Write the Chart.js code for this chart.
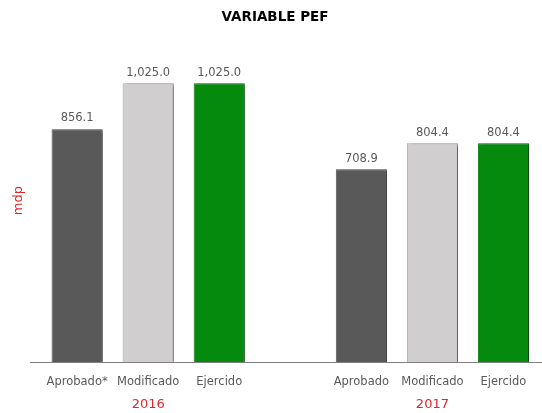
<!DOCTYPE html>
<html>
<head>
<meta charset="utf-8">
<script src="https://cdn.jsdelivr.net/npm/chart.js@4/dist/chart.umd.min.js"></script>
<style>
  html, body { margin: 0; padding: 0; background: #fff; }
  #wrap { width: 542px; height: 413px; }
</style>
</head>
<body>
<div id="wrap"><canvas id="pefChart"></canvas></div>
<script>
const categories = ['Aprobado*', 'Modificado', 'Ejercido', '', 'Aprobado', 'Modificado', 'Ejercido'];
const values = [856.1, 1025.0, 1025.0, null, 708.9, 804.4, 804.4];
const yearTicks = ['', '2016', '', '', '', '2017', ''];
const barColors = ['#595959', '#d0cece', '#058a0e', '#ffffff', '#595959', '#d0cece', '#058a0e'];
const borderColors = ['#505050', '#a6a6a6', '#047a0c', '#ffffff', '#505050', '#a6a6a6', '#047a0c'];

const fmt = v => v.toLocaleString('en-US', { minimumFractionDigits: 1, maximumFractionDigits: 1 });

// soft shadow behind the bars
const barShadow = {
    id: 'barShadow',
    beforeDatasetsDraw(chart) {
        const ctx = chart.ctx;
        ctx.save();
        ctx.shadowColor = 'rgba(0,0,0,0.45)';
        ctx.shadowOffsetX = 3;
        ctx.shadowOffsetY = 1;
        ctx.shadowBlur = 3;
    },
    afterDatasetsDraw(chart) {
        chart.ctx.restore();
    }
};

// value labels, baseline, year labels under the groups
const barLabels = {
    id: 'barLabels',
    afterDatasetsDraw(chart) {
        const ctx = chart.ctx;
        const meta = chart.getDatasetMeta(0);
        const xs = chart.scales.x;
        const y0 = chart.scales.y.getPixelForValue(0);
        ctx.save();
        ctx.strokeStyle = '#7f7f7f';
        ctx.lineWidth = 1;
        ctx.beginPath();
        ctx.moveTo(30, Math.round(y0) + 0.5);
        ctx.lineTo(chart.width, Math.round(y0) + 0.5);
        ctx.stroke();
        ctx.fillStyle = '#595959';
        ctx.font = '11.5px "DejaVu Sans"';
        ctx.textAlign = 'center';
        ctx.textBaseline = 'bottom';
        meta.data.forEach((bar, i) => {
            if (values[i] == null) return;
            ctx.fillText(fmt(values[i]), bar.x, bar.y - 5);
        });
        ctx.fillStyle = '#e0262b';
        ctx.font = '13px "DejaVu Sans"';
        ctx.textBaseline = 'middle';
        yearTicks.forEach((t, i) => {
            if (t) ctx.fillText(t, xs.getPixelForValue(i), y0 + 42);
        });
        ctx.restore();
    }
};

const ctx = document.getElementById('pefChart').getContext('2d');
const pefChart = new Chart(ctx, {
    type: 'bar',
    data: {
        labels: categories,
        datasets: [{
            data: values,
            backgroundColor: barColors,
            borderColor: borderColors,
            borderWidth: 1,
            categoryPercentage: 1,
            barPercentage: 0.72
        }]
    },
    options: {
        responsive: true,
        maintainAspectRatio: false,
        animation: false,
        layout: { padding: { left: 11, right: 3, top: 0, bottom: 11 } },
        plugins: {
            legend: { display: false },
            tooltip: { enabled: false },
            title: {
                display: true,
                text: 'VARIABLE PEF',
                color: '#000',
                font: { family: 'DejaVu Sans', size: 13.5, weight: 'bold' },
                padding: { top: 9, bottom: 14 }
            }
        },
        scales: {
            x: {
                grid: { display: false, drawTicks: false },
                border: { display: false },
                ticks: { color: '#595959', font: { family: 'DejaVu Sans', size: 11.5 }, padding: 13, maxRotation: 0, autoSkip: false }
            },
            y: {
                min: 0,
                max: 1187,
                grid: { display: false },
                border: { display: false },
                ticks: { display: false },
                title: { display: true, text: 'mdp', color: '#e0262b', font: { family: 'DejaVu Sans', size: 13 }, padding: { top: 0, bottom: 7 } }
            }
        }
    },
    plugins: [barShadow, barLabels]
});
</script>
</body>
</html>
